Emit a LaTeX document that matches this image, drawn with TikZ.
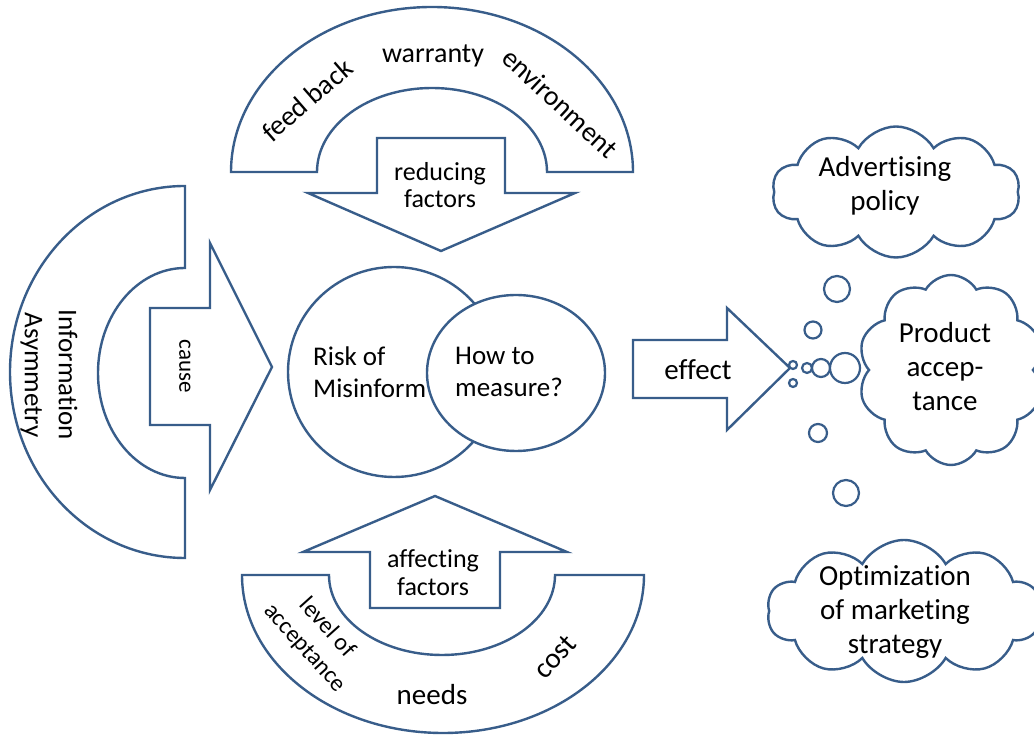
\documentclass[tikz,border=0pt]{standalone}
\usepackage{fontspec}
\setmainfont{Carlito}[Ligatures=NoCommon]
\usetikzlibrary{shapes.symbols,positioning}
\definecolor{edgeblue}{RGB}{56,93,138}

\begin{document}
\begin{tikzpicture}[x=1pt,y=1pt,
  outline/.style={draw=edgeblue,line width=2.4pt,line join=miter,fill=white},
  lbl/.style={inner sep=0pt,align=center,font=\fontsize{28}{33}\selectfont},
  thought/.style={cloud,cloud puffs=10,cloud puff arc=120,cloud ignores aspect,
    draw=edgeblue,line width=2.4pt,fill=white,inner sep=0pt},
  bubble/.style={draw=edgeblue,line width=2.2pt,fill=white}]
  \useasboundingbox (0,0) rectangle (1034,736);
  % upper half ring and the reducing arrow
  \draw[outline] (231,564) arc[start angle=180,end angle=0,x radius=201,y radius=165]
    -- (547,564) arc[start angle=0,end angle=180,x radius=115,y radius=84] -- cycle;
  \node[lbl,rotate=41] (feed) at (307,636) {feed back};
  \node[lbl] (warranty) at (433,680) {warranty};
  \node[lbl,rotate=-43] (env) at (560,633) {environment};
  \draw[outline] (377,598) -- (505,598) -- (505,543) -- (575,543) -- (441,485)
    -- (308,543) -- (377,543) -- cycle;
  \node[lbl,font=\fontsize{26}{27}\selectfont] (reduce) at (440,551) {reducing\\factors};
  % left half ring and the cause arrow
  \draw[outline] (185,550) arc[start angle=90,end angle=270,x radius=175,y radius=186]
    -- (185,258) arc[start angle=270,end angle=90,x radius=87,y radius=105] -- cycle;
  \node[lbl,rotate=-90,font=\fontsize{27}{34}\selectfont] (info) at (49,361) {Information\\Asymmetry};
  \draw[outline] (150,428) -- (210,428) -- (210,493) -- (272,369) -- (210,246)
    -- (210,311) -- (150,311) -- cycle;
  \node[lbl,rotate=-90,font=\fontsize{23}{28}\selectfont] (cause) at (185,370) {cause};
  % lower half ring and the affecting arrow
  \draw[outline] (242,161) arc[start angle=180,end angle=360,x radius=201,y radius=158]
    -- (555,161) arc[start angle=0,end angle=-180,x radius=113,y radius=80] -- cycle;
  \node[lbl,rotate=-48,font=\fontsize{24}{30}\selectfont] (level) at (316,98) {level of\\acceptance};
  \node[lbl,font=\fontsize{29}{33}\selectfont] (needs) at (432,41) {needs};
  \node[lbl,rotate=48,font=\fontsize{29}{33}\selectfont] (cost) at (555,79) {cost};
  \draw[outline] (370,128) -- (500,128) -- (500,184) -- (567,184) -- (435,240)
    -- (303,184) -- (370,184) -- cycle;
  \node[lbl,font=\fontsize{26}{28}\selectfont] (affect) at (433,163) {affecting\\factors};
  % two overlapping circles in the middle
  \draw[outline] (394,364) ellipse[x radius=106,y radius=105];
  \node[lbl,align=left,anchor=west,font=\fontsize{27}{32}\selectfont] (risk) at (313,364) {Risk of\\Misinform};
  \draw[outline] (516,363) ellipse[x radius=89,y radius=78];
  \node[lbl,align=left,anchor=west,font=\fontsize{27}{32}\selectfont] (measure) at (455,364) {How to\\measure?};
  % effect arrow
  \draw[outline] (633,396) -- (727,396) -- (727,428) -- (790,368) -- (727,306)
    -- (727,338) -- (633,338) -- cycle;
  \node[lbl,font=\fontsize{29}{33}\selectfont] (effect) at (698,366) {effect};
  % thought bubbles
  \foreach \bx/\by/\br in {837/447/13,813/406/8.5,818/303/9,846/243/13,
      793/371/4,793/353/4,807/368/5,821/368/9,845/368/15}
    \draw[bubble] (\bx,\by) circle[radius=\br];
  % clouds
  \node[thought,minimum width=248,minimum height=131] (advcloud) at (896,544) {};
  \node[lbl,font=\fontsize{29}{34}\selectfont] (adv) at (885,550) {Advertising\\policy};
  \node[thought,minimum width=186,minimum height=190] (prodcloud) at (951,366) {};
  \node[lbl,font=\fontsize{29}{34}\selectfont] (prod) at (945,369) {Product\\accep-\\tance};
  \node[thought,minimum width=274,minimum height=142] (optcloud) at (904,125) {};
  \node[lbl,font=\fontsize{29}{34}\selectfont] (opt) at (895,124) {Optimization\\of marketing\\strategy};
\end{tikzpicture}
\end{document}
